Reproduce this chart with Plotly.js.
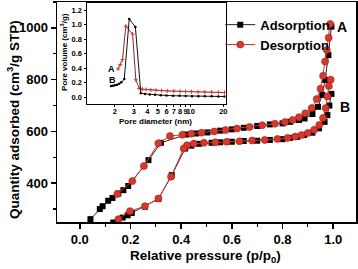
<!DOCTYPE html>
<html>
<head>
<meta charset="utf-8">
<script src="https://cdn.plot.ly/plotly-3.0.1.min.js"></script>
<style>html,body{margin:0;padding:0;background:#fff;}#chart{width:358px;height:269px;}</style>
</head>
<body>
<div id="chart"></div>
<script>
// Main isotherms: sample A (upper) and sample B (lower)
const aAdsX = [0.042, 0.079, 0.09, 0.112, 0.129, 0.152, 0.172, 0.191, 0.271, 0.32, 0.42, 0.459, 0.504, 0.554, 0.6, 0.647, 0.70, 0.75, 0.80, 0.83, 0.865, 0.887, 0.918, 0.94, 0.957, 0.968, 0.981, 0.993];
const aAdsY = [261, 300, 311, 332, 343, 360, 373, 389, 489, 556, 588, 592, 596, 603, 608, 614, 621, 627, 631, 637, 644, 650, 667, 695, 741, 799, 895, 1005];
const aDesX = [0.988, 0.982, 0.975, 0.968, 0.96, 0.95, 0.935, 0.915, 0.89, 0.865, 0.84, 0.81, 0.77, 0.72, 0.67, 0.62, 0.575, 0.53, 0.48, 0.44, 0.405, 0.356, 0.31, 0.253, 0.207, 0.148];
const aDesY = [1015, 962, 915, 870, 815, 765, 725, 690, 670, 655, 644, 636, 630, 624, 617, 611, 605, 600, 595, 591, 587, 582, 554, 466, 408, 358];
const bAdsX = [0.132, 0.169, 0.189, 0.205, 0.257, 0.31, 0.363, 0.416, 0.44, 0.47, 0.52, 0.554, 0.60, 0.647, 0.70, 0.75, 0.80, 0.83, 0.858, 0.885, 0.918, 0.944, 0.966, 0.977, 0.985, 0.993];
const bAdsY = [248, 267, 276, 285, 309, 339, 431, 534, 545, 552, 556, 558, 560, 563, 564, 567, 570, 575, 579, 586, 595, 612, 637, 663, 700, 745];
const bDesX = [0.99, 0.983, 0.977, 0.97, 0.96, 0.945, 0.925, 0.9, 0.875, 0.85, 0.82, 0.78, 0.73, 0.68, 0.63, 0.58, 0.535, 0.49, 0.45, 0.423, 0.41, 0.36, 0.31, 0.257, 0.198, 0.152];
const bDesY = [800, 775, 735, 690, 652, 625, 606, 594, 586, 580, 575, 571, 567, 565, 562, 560, 558, 556, 553, 547, 534, 425, 341, 311, 292, 261];

// Inset: pore size distributions
const insAX = [2.15, 2.25, 2.36, 2.53, 2.92, 3.13, 3.36, 3.6, 3.9, 4.3, 4.8, 5.4, 6.1, 7, 8, 9, 10.2, 11.7, 13.5, 15.6, 18, 20.5];
const insAY = [0.39, 0.45, 0.52, 0.98, 0.87, 0.24, 0.12, 0.11, 0.105, 0.1, 0.095, 0.09, 0.087, 0.083, 0.08, 0.077, 0.075, 0.072, 0.07, 0.068, 0.066, 0.064];
const insBX = [1.85, 1.92, 2.0, 2.1, 2.2, 2.3, 2.45, 2.72, 3.1, 3.48, 3.8, 4.2, 4.7, 5.3, 6, 6.9, 7.9, 9, 10.3, 11.8, 13.5, 15.6, 18, 20.5];
const insBY = [0.155, 0.158, 0.163, 0.17, 0.185, 0.205, 0.25, 1.08, 0.97, 0.055, 0.045, 0.038, 0.032, 0.027, 0.023, 0.02, 0.018, 0.016, 0.014, 0.013, 0.012, 0.011, 0.01, 0.009];

const xTickVals = [0, 0.2, 0.4, 0.6, 0.8, 1.0];
const xTickText = ['0.0', '0.2', '0.4', '0.6', '0.8', '1.0'];
const yTickVals = [400, 600, 800, 1000];
const insXTickVals = [2, 3, 4, 5, 6, 7, 8, 9, 10, 20];
const insXTickText = ['2', '3', '4', '5', '6', '7', '8', '9', '10', '20'];
const insYTickVals = [0, 0.2, 0.4, 0.6, 0.8, 1.0, 1.2];
const insYTickText = ['0.0', '0.2', '0.4', '0.6', '0.8', '1.0', '1.2'];

const FONT = 'Liberation Sans, Arial, sans-serif';
const RED = '#d8372c';
const REDLINE = '#a31d16';

const sq = {symbol: 'square', size: 6, color: '#000'};
const ci = {symbol: 'circle', size: 7, color: RED, line: {color: REDLINE, width: 0.6}};

const traces = [
  {x: aAdsX, y: aAdsY, mode: 'lines+markers', name: 'Adsorption', legendgroup: 'ads',
   line: {color: '#222', width: 1}, marker: sq},
  {x: aDesX, y: aDesY, mode: 'lines+markers', name: 'Desorption', legendgroup: 'des',
   line: {color: RED, width: 1}, marker: ci},
  {x: bAdsX, y: bAdsY, mode: 'lines+markers', name: 'Adsorption', legendgroup: 'ads', showlegend: false,
   line: {color: '#222', width: 1}, marker: sq},
  {x: bDesX, y: bDesY, mode: 'lines+markers', name: 'Desorption', legendgroup: 'des', showlegend: false,
   line: {color: RED, width: 1}, marker: ci},
  {x: insAX, y: insAY, xaxis: 'x2', yaxis: 'y2', mode: 'lines+markers', showlegend: false,
   line: {color: '#8a2a22', width: 1}, marker: {symbol: 'cross-thin', size: 3, color: RED, line: {color: RED, width: 1}}},
  {x: insBX, y: insBY, xaxis: 'x2', yaxis: 'y2', mode: 'lines+markers', showlegend: false,
   line: {color: '#111', width: 1}, marker: {symbol: 'circle', size: 2.5, color: '#000'}}
];

const axisCommon = {
  showline: true, mirror: true, linecolor: '#000', linewidth: 1.5,
  showgrid: false, zeroline: false, ticks: 'outside', tickcolor: '#000',
  tickwidth: 1.5, ticklen: 5,
  tickfont: {family: FONT, size: 13, color: '#000', weight: 700}
};

function ann(text, x, y, size, extra) {
  return Object.assign({text: text, xref: 'paper', yref: 'paper', x: x, y: y, xanchor: 'center', yanchor: 'middle',
    showarrow: false, font: {family: FONT, size: size, weight: 700, color: '#000'}}, extra || {});
}

const layout = {
  width: 358, height: 269,
  margin: {l: 57, r: 2, t: 2, b: 47},
  paper_bgcolor: '#fff', plot_bgcolor: '#fff',
  font: {family: FONT, color: '#000'},
  showlegend: true,
  legend: {x: 0.546, y: 0.965, xanchor: 'left', yanchor: 'top', bgcolor: 'rgba(0,0,0,0)',
           font: {family: FONT, size: 13, color: '#000', weight: 700}, tracegroupgap: 0},
  xaxis: Object.assign({}, axisCommon, {
    range: [-0.09, 1.09], tickmode: 'array', tickvals: xTickVals, ticktext: xTickText,
    minor: {ticks: 'outside', ticklen: 3, tickwidth: 1.2, tickcolor: '#000', dtick: 0.1, tick0: 0}
  }),
  yaxis: Object.assign({}, axisCommon, {
    range: [250, 1100], tickmode: 'array', tickvals: yTickVals,
    minor: {ticks: 'outside', ticklen: 3, tickwidth: 1.2, tickcolor: '#000', dtick: 100, tick0: 0}
  }),
  xaxis2: {
    type: 'log', range: [Math.log10(1.1), Math.log10(21)], domain: [0.0987, 0.564], anchor: 'y2',
    showline: true, mirror: true, linecolor: '#000', linewidth: 1, showgrid: false, zeroline: false,
    ticks: 'outside', ticklen: 2, tickwidth: 1, tickcolor: '#000', tickangle: 0, ticklabelstandoff: -2,
    tickmode: 'array', tickvals: insXTickVals, ticktext: insXTickText,
    tickfont: {family: FONT, size: 7.5, color: '#000', weight: 700}
  },
  yaxis2: {
    range: [-0.1, 1.3], domain: [0.5345, 0.9955], anchor: 'x2',
    showline: true, mirror: true, linecolor: '#000', linewidth: 1, showgrid: false, zeroline: false,
    ticks: 'outside', ticklen: 2, tickwidth: 1, tickcolor: '#000',
    tickmode: 'array', tickvals: insYTickVals, ticktext: insYTickText,
    tickfont: {family: FONT, size: 7.5, color: '#000', weight: 700}
  },
  annotations: [
    ann('Quantity adsorbed (cm<sup>3</sup>/g STP)', -0.147, 0.4636, 13.5, {textangle: -90}),
    ann('Relative pressure (p/p<sub>0</sub>)', 0.498, -0.159, 13.5),
    ann('Pore diameter (nm)', 0.328, 0.455, 8),
    ann('Pore volume (cm<sup>3</sup>/g)', 0.0234, 0.773, 8, {textangle: -90}),
    ann('A', 0.953, 0.886, 14),
    ann('B', 0.963, 0.523, 14),
    ann('A', 0.273, 0.39, 9, {xref: 'x2', yref: 'y2'}),
    ann('B', 0.278, 0.24, 9, {xref: 'x2', yref: 'y2'})
  ]
};

Plotly.newPlot('chart', traces, layout, {displayModeBar: false, staticPlot: true});
</script>
</body>
</html>
